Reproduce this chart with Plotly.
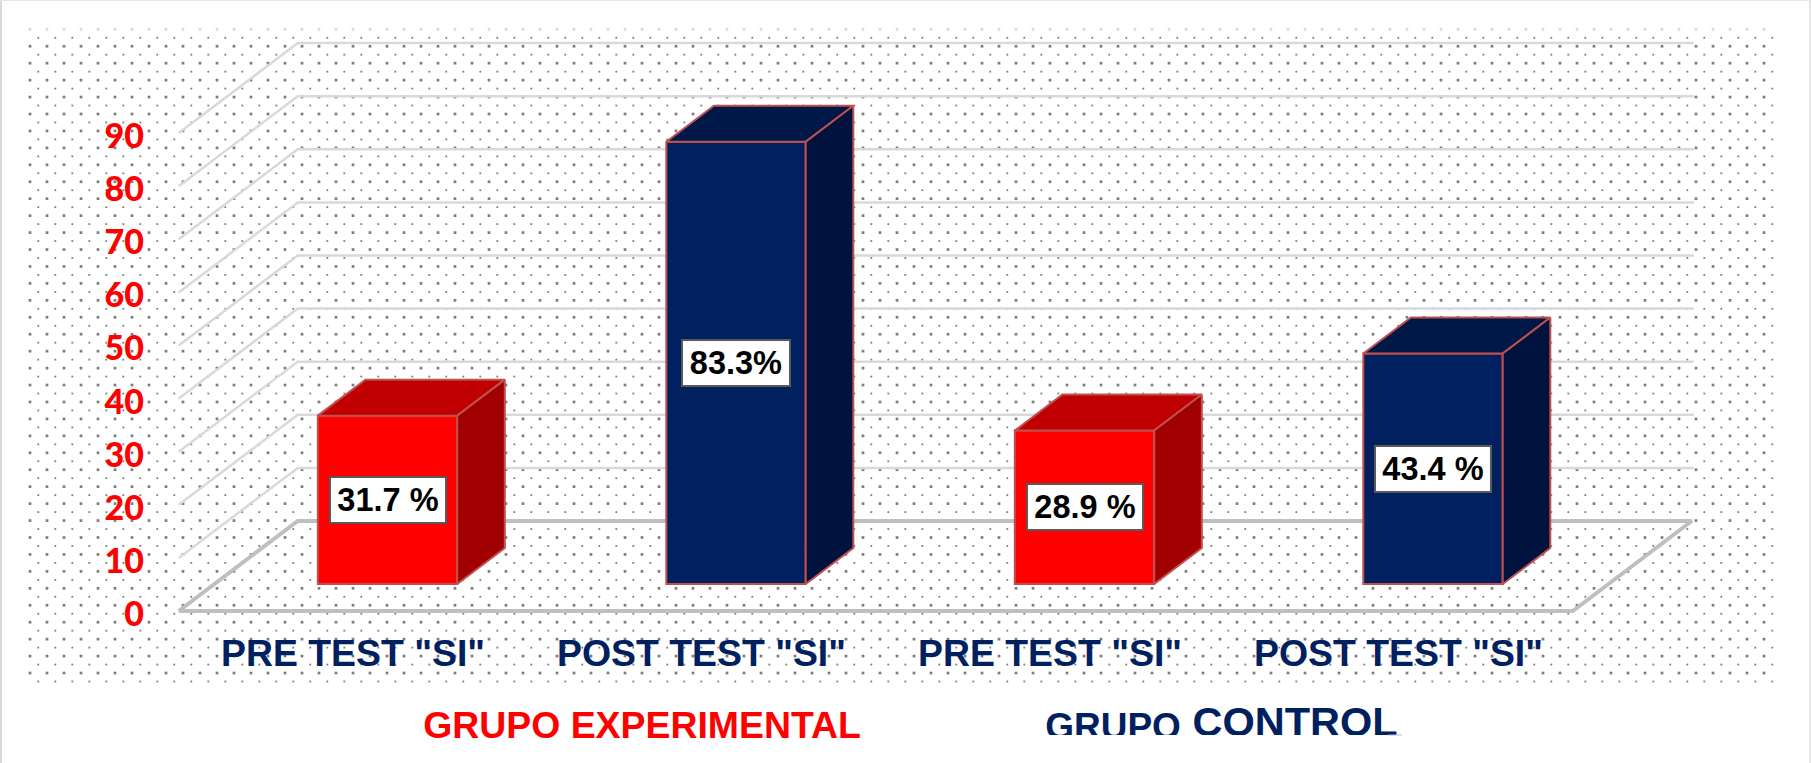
import numpy as np
import plotly.graph_objects as go

# values
categories = ['PRE TEST "SI"', 'POST TEST "SI"', 'PRE TEST "SI"', 'POST TEST "SI"']
values = [31.7, 83.3, 28.9, 43.4]
value_labels = ['31.7 %', '83.3%', '28.9 %', '43.4 %']
y_ticks = [0, 10, 20, 30, 40, 50, 60, 70, 80, 90]

front_colors = ['#FF0000', '#002060', '#FF0000', '#002060']
top_colors = ['#C00000', '#001848', '#C00000', '#001848']
side_colors = ['#A00000', '#00133F', '#A00000', '#00133F']

EDGE = '#C0504D'
NAVY = '#002060'
RED = '#FF0000'
ARIAL = 'Liberation Sans'


# page pixels <-> axis units (only for placing the frame of the chart)
def to_x(px):
    return (px - 353) / 348.5


def to_y(py):
    return (611 - py) / 5.31


X_RANGE = [to_x(0), to_x(1811)]
Y_RANGE = [to_y(763), to_y(0)]

# 3D look: how far the back wall sits from the front of the floor
DEPTH_X = 119 / 348.5
DEPTH_Y = 90 / 5.31
BAR_WIDTH = 0.40
BAR_NEAR = 0.29  # front of the bar, as a share of the floor depth
BAR_DEPTH = 0.40

fig = go.Figure()

# %% dotted background
xs, ys, sizes, colors = [], [], [], []
for row, py in enumerate(np.arange(29.3, 684, 8.47)):
    start = 30 if row % 2 == 0 else 38.3
    for px in np.arange(start, 1781, 17):
        xs.append(to_x(px))
        ys.append(to_y(py))
        sizes.append(2.7 if row % 2 == 0 else 1.8)
        colors.append('#C8C8C8' if row == 0 else '#444444')
fig.add_trace(go.Scatter(x=xs, y=ys, mode='markers',
                         marker=dict(symbol='square', size=sizes, color=colors, line_width=0)))

# %% walls and floor
for v in y_ticks[1:]:
    fig.add_trace(go.Scatter(x=[-0.5, -0.5 + DEPTH_X, 3.5 + DEPTH_X + 0.006],
                             y=[v, v + DEPTH_Y, v + DEPTH_Y],
                             mode='lines', line=dict(color='#D9D9D9', width=2.5)))

fig.add_trace(go.Scatter(x=[-0.5, -0.5 + DEPTH_X, 3.5 + DEPTH_X, 3.5, -0.5],
                         y=[0, DEPTH_Y, DEPTH_Y, 0, 0],
                         mode='lines', line=dict(color='#BFBFBF', width=4)))

# %% bars, on an overlaid copy of the axes so the dots stay behind them
x_front = [i + BAR_NEAR * DEPTH_X for i in range(len(values))]
y_base = 0.3 * DEPTH_Y
dx = BAR_DEPTH * DEPTH_X
dy = BAR_DEPTH * DEPTH_Y
half = BAR_WIDTH / 2

fig.add_trace(go.Bar(x=x_front, y=values, base=y_base, width=BAR_WIDTH,
                     marker=dict(color=front_colors, line=dict(color=EDGE, width=2)),
                     xaxis='x2', yaxis='y2'))

for xf, v, top, side in zip(x_front, values, top_colors, side_colors):
    y_top = y_base + v
    fig.add_trace(go.Scatter(x=[xf - half, xf + half, xf + half + dx, xf - half + dx, xf - half],
                             y=[y_top, y_top, y_top + dy, y_top + dy, y_top],
                             mode='lines', fill='toself', fillcolor=top,
                             line=dict(color=EDGE, width=2), xaxis='x2', yaxis='y2'))
    fig.add_trace(go.Scatter(x=[xf + half, xf + half + dx, xf + half + dx, xf + half, xf + half],
                             y=[y_base, y_base + dy, y_top + dy, y_top, y_base],
                             mode='lines', fill='toself', fillcolor=side,
                             line=dict(color=EDGE, width=2), xaxis='x2', yaxis='y2'))

for xf, v, label in zip(x_front, values, value_labels):
    fig.add_annotation(x=xf, y=y_base + v / 2, xref='x2', yref='y2', text=f'<b>{label}</b>',
                       showarrow=False, font=dict(family=ARIAL, size=32.5, color='black'),
                       bgcolor='white', bordercolor='#595959', borderwidth=2, borderpad=0,
                       width=len(label) * 8 + 66, height=44)

# %% group captions
fig.add_trace(go.Scatter(x=[to_x(642), to_x(1113), to_x(1295)],
                         y=[to_y(729), to_y(730), to_y(726)],
                         mode='text', text=['GRUPO EXPERIMENTAL', 'GRUPO', 'CONTROL'],
                         textposition='middle center',
                         textfont=dict(family=ARIAL, size=[37.4, 37, 41.5], color=[RED, NAVY, NAVY],
                                       weight='bold'),
                         xaxis='x2', yaxis='y2'))
# the caption of the second group is cut off in the original
fig.add_trace(go.Scatter(x=[to_x(1030), to_x(1420), to_x(1420), to_x(1030), to_x(1030)],
                         y=[to_y(735), to_y(735), to_y(760), to_y(760), to_y(735)],
                         mode='lines', fill='toself', fillcolor='white',
                         line=dict(color='white', width=0), xaxis='x2', yaxis='y2'))
fig.add_trace(go.Scatter(x=[to_x(1388), to_x(1402)], y=[to_y(735), to_y(735)],
                         mode='lines', line=dict(color='#B4BCCF', width=1), xaxis='x2', yaxis='y2'))

fig.update_layout(
    width=1811,
    height=763,
    margin=dict(l=0, r=0, t=0, b=0),
    showlegend=False,
    plot_bgcolor='white',
    paper_bgcolor='white',
    xaxis=dict(range=X_RANGE, anchor='free', position=1 - 628 / 763, tickmode='array',
               tickvals=list(range(len(categories))), ticktext=categories,
               tickfont=dict(family=ARIAL, size=37.4, color=NAVY, weight='bold'),
               showgrid=False, zeroline=False, showline=False, ticks=''),
    yaxis=dict(range=Y_RANGE, anchor='free', position=144 / 1811, tickmode='array',
               tickvals=y_ticks, ticklabelshift=3,
               tickfont=dict(family='Lato', size=34, color=RED, weight=900),
               showgrid=False, zeroline=False, showline=False, ticks=''),
    xaxis2=dict(range=X_RANGE, overlaying='x', anchor='y2', visible=False),
    yaxis2=dict(range=Y_RANGE, overlaying='y', anchor='x2', visible=False),
    shapes=[
        dict(type='line', xref='paper', yref='paper', x0=0, x1=0, y0=0, y1=1,
             line=dict(color='#D9D9D9', width=4)),
        dict(type='line', xref='paper', yref='paper', x0=1, x1=1, y0=0, y1=1,
             line=dict(color='#E6E6E6', width=4)),
        dict(type='line', xref='paper', yref='paper', x0=0, x1=1, y0=1, y1=1,
             line=dict(color='#E6E6E6', width=2)),
    ],
)

fig.write_html('out.html', config={'displayModeBar': False},
               post_script="document.body.style.margin='0';document.body.style.overflow='hidden';")
